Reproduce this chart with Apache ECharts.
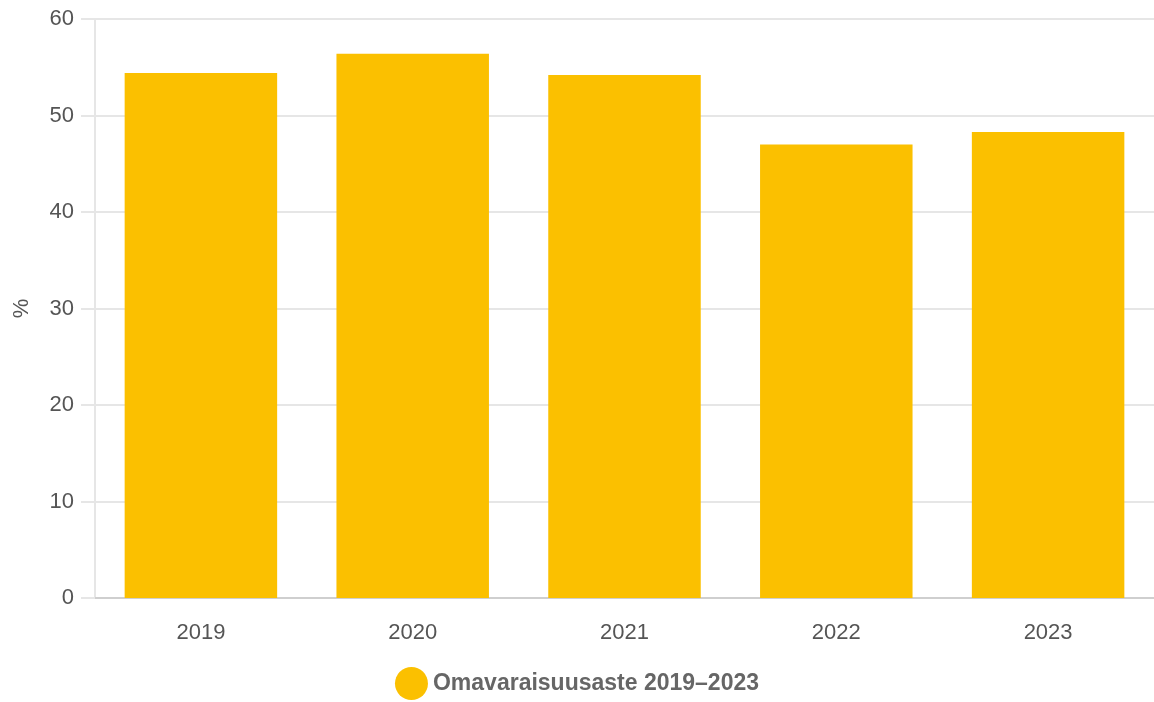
<!DOCTYPE html>
<html>
<head>
<meta charset="utf-8">
<script src="https://cdn.jsdelivr.net/npm/echarts@6/dist/echarts.min.js"></script>
<style>
  html, body { margin: 0; padding: 0; background: #fff; }
  #main { width: 1154px; height: 702px; }
</style>
</head>
<body>
<div id="main"></div>
<script>
const years = ['2019', '2020', '2021', '2022', '2023']
const equityRatio = [54.4, 56.4, 54.2, 47.0, 48.3]
const seriesName = 'Omavaraisuusaste 2019–2023'

const chart = echarts.init(document.getElementById('main'))
chart.setOption({
	animation: false,
	textStyle: { fontFamily: 'Liberation Sans, Arial, sans-serif' },
	grid: { left: 95, top: 19, width: 1062, height: 579 },
	legend: {
		top: 662,
		left: 'center',
		icon: 'circle',
		itemWidth: 33,
		itemHeight: 33,
		itemGap: 10,
		textStyle: { fontSize: 23, fontWeight: 'bold', color: '#666' },
		data: [seriesName]
	},
	xAxis: {
		type: 'category',
		data: years,
		axisLine: { lineStyle: { color: '#c8c8c8', width: 1.5 } },
		axisTick: { show: false },
		axisLabel: { fontSize: 22, color: '#555', margin: 24 }
	},
	yAxis: {
		type: 'value',
		min: 0,
		max: 60,
		interval: 10,
		name: '%',
		nameLocation: 'middle',
		nameGap: 62,
		nameRotate: 90,
		nameTextStyle: { fontSize: 22, color: '#555' },
		axisLine: { show: true, lineStyle: { color: '#e6e6e6', width: 2 } },
		axisTick: { show: true, length: 14, lineStyle: { color: '#e6e6e6', width: 2 } },
		axisLabel: { fontSize: 22, color: '#555', margin: 21 },
		splitLine: { lineStyle: { color: '#e6e6e6', width: 2 } }
	},
	series: [{
		name: seriesName,
		type: 'bar',
		data: equityRatio,
		barWidth: '72%',
		itemStyle: { color: '#fbc000' }
	}]
})
</script>
</body>
</html>
